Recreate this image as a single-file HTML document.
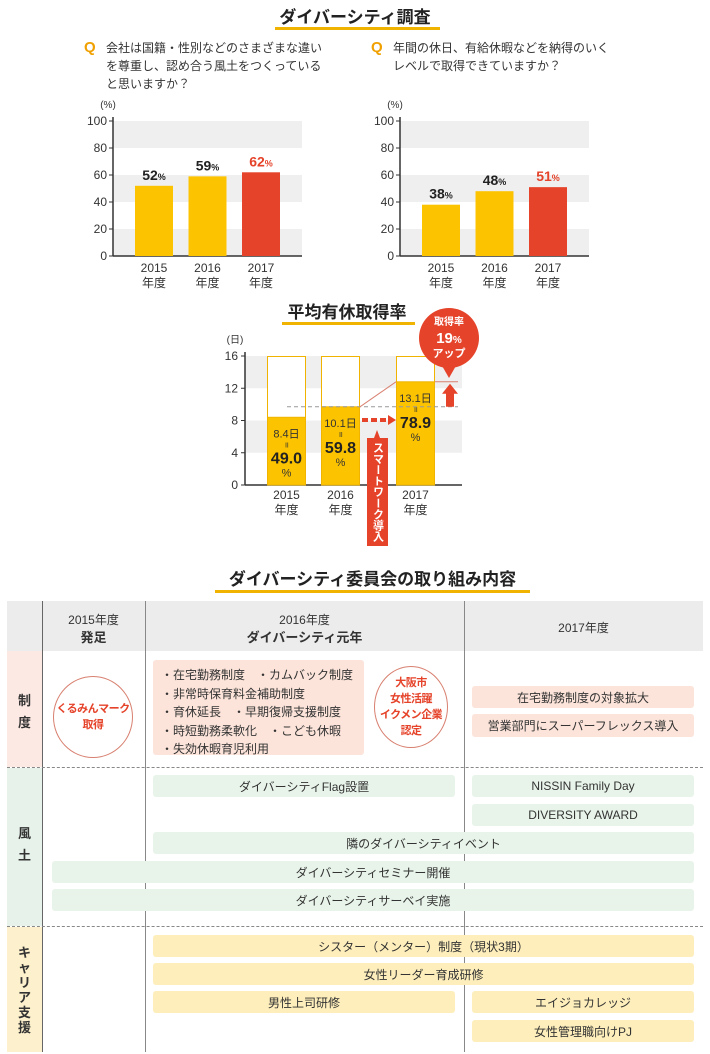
<!DOCTYPE html>
<html><head><meta charset="utf-8">
<style>
body{margin:0;width:710px;height:1054px;background:#fff;font-family:"Liberation Sans","Noto Sans CJK JP",sans-serif;color:#333;position:relative;overflow:hidden}
.a{position:absolute}
.t{position:absolute;font-weight:bold;font-size:17px;color:#222;text-align:center}
.ul{position:absolute;height:3px;background:#f0b400}
.box{position:absolute;display:flex;align-items:center;justify-content:center;font-size:12px;color:#333;border-radius:3px}
.pk{background:#fce4da}.gr{background:#e8f4ea}.yl{background:#fdeebb}
svg text{font-family:"Liberation Sans","Noto Sans CJK JP",sans-serif}
</style></head><body>
<div class="t" style="left:255px;top:3px;width:200px">ダイバーシティ調査</div>
<div class="ul" style="left:275px;top:27px;width:165px"></div>

<div class="a" style="left:106px;top:39px;font-size:12px;line-height:18px;width:220px"><span style="position:absolute;left:-22px;top:0;color:#f0a000;font-weight:bold;font-size:15px">Q</span>会社は国籍・性別などのさまざまな違いを尊重し、認め合う風土をつくっていると思いますか？</div>
<div class="a" style="left:393px;top:39px;font-size:12px;line-height:18px;width:230px"><span style="position:absolute;left:-22px;top:0;color:#f0a000;font-weight:bold;font-size:15px">Q</span>年間の休日、有給休暇などを納得のいく<br>レベルで取得できていますか？</div>

<svg id="c1" class="a" style="left:0;top:0" width="710" height="550"></svg>

<div class="t" style="left:262px;top:298px;width:170px">平均有休取得率</div>
<div class="ul" style="left:282px;top:322px;width:133px"></div>

<div class="t" style="left:190px;top:565px;width:365px">ダイバーシティ委員会の取り組み内容</div>
<div class="ul" style="left:215px;top:590px;width:315px"></div>

<div>
<div class="a" style="left:7px;top:601px;width:696px;height:50px;background:#ececec"></div>
<div class="a" style="left:7px;top:651px;width:35px;height:116px;background:#fde9e3"></div>
<div class="a" style="left:7px;top:768px;width:35px;height:158px;background:#e7f3ea"></div>
<div class="a" style="left:7px;top:927px;width:35px;height:125px;background:#fdf0cc"></div>
<div class="a" style="left:42px;top:601px;width:1px;height:451px;background:#666"></div>
<div class="a" style="left:145px;top:601px;width:1px;height:451px;background:#888"></div>
<div class="a" style="left:464px;top:601px;width:1px;height:451px;background:#888"></div>
<div class="a" style="left:7px;top:767px;width:696px;border-top:1px dashed #888"></div>
<div class="a" style="left:7px;top:926px;width:696px;border-top:1px dashed #888"></div>
<div class="a" style="left:42px;top:612px;width:103px;text-align:center;font-size:12px;line-height:17px">2015年度<br><b style="font-size:13px">発足</b></div>
<div class="a" style="left:145px;top:612px;width:319px;text-align:center;font-size:12px;line-height:17px">2016年度<br><b style="font-size:13px">ダイバーシティ元年</b></div>
<div class="a" style="left:464px;top:619px;width:239px;text-align:center;font-size:12px">2017年度</div>
<div class="a" style="left:7px;top:690px;width:35px;text-align:center;font-size:13px;font-weight:bold;line-height:22px">制<br>度</div>
<div class="a" style="left:7px;top:823px;width:35px;text-align:center;font-size:13px;font-weight:bold;line-height:22px">風<br>土</div>
<div class="a" style="left:7px;top:945px;width:35px;text-align:center;font-size:13px;font-weight:bold;line-height:15px">キ<br>ャ<br>リ<br>ア<br>支<br>援</div>

<div class="a" style="left:53px;top:676px;width:78px;height:80px;border:1px solid #d88070;border-radius:50%;display:flex;align-items:center;justify-content:center;text-align:center;color:#e5432a;font-weight:bold;font-size:11px;line-height:16px;white-space:nowrap;letter-spacing:-0.5px">くるみんマーク<br>取得</div>
<div class="a pk" style="left:153px;top:660px;width:211px;height:95px;border-radius:3px;font-size:12px;line-height:18.5px;padding:6px 0 0 8px;box-sizing:border-box">・在宅勤務制度　・カムバック制度<br>・非常時保育料金補助制度<br>・育休延長　・早期復帰支援制度<br>・時短勤務柔軟化　・こども休暇<br>・失効休暇育児利用</div>
<div class="a" style="left:374px;top:666px;width:72px;height:80px;border:1px solid #d88070;border-radius:50%;display:flex;align-items:center;justify-content:center;text-align:center;color:#e5432a;font-weight:bold;font-size:11px;line-height:16px;white-space:nowrap;letter-spacing:-0.5px">大阪市<br>女性活躍<br>イクメン企業<br>認定</div>
<div class="box pk" style="left:472px;top:686px;width:222px;height:22px">在宅勤務制度の対象拡大</div>
<div class="box pk" style="left:472px;top:714px;width:222px;height:23px">営業部門にスーパーフレックス導入</div>

<div class="box gr" style="left:153px;top:775px;width:302px;height:22px">ダイバーシティFlag設置</div>
<div class="box gr" style="left:472px;top:775px;width:222px;height:22px">NISSIN Family Day</div>
<div class="box gr" style="left:472px;top:804px;width:222px;height:22px">DIVERSITY AWARD</div>
<div class="box gr" style="left:153px;top:832px;width:541px;height:22px">隣のダイバーシティイベント</div>
<div class="box gr" style="left:52px;top:861px;width:642px;height:22px">ダイバーシティセミナー開催</div>
<div class="box gr" style="left:52px;top:889px;width:642px;height:22px">ダイバーシティサーベイ実施</div>

<div class="box yl" style="left:153px;top:935px;width:541px;height:22px">シスター（メンター）制度（現状3期）</div>
<div class="box yl" style="left:153px;top:963px;width:541px;height:22px">女性リーダー育成研修</div>
<div class="box yl" style="left:153px;top:991px;width:302px;height:22px">男性上司研修</div>
<div class="box yl" style="left:472px;top:991px;width:222px;height:22px">エイジョカレッジ</div>
<div class="box yl" style="left:472px;top:1020px;width:222px;height:22px">女性管理職向けPJ</div>
</div>

<script>
const years = ["2015","2016","2017"];
const q1Values = [52, 59, 62];
const q2Values = [38, 48, 51];
const pctTicks = [0,20,40,60,80,100];
const leaveFill = [8.4, 9.7, 12.8];
const leaveDays = ["8.4日","10.1日","13.1日"];
const leaveRates = ["49.0","59.8","78.9"];
const dayTicks = [0,4,8,12,16];

const svg = document.getElementById('c1');
const NS = 'http://www.w3.org/2000/svg';
function mk(tag, attrs, parent, txt){
  const e = document.createElementNS(NS, tag);
  for (const k in attrs) e.setAttribute(k, attrs[k]);
  if (txt !== undefined) e.textContent = txt;
  (parent||svg).appendChild(e);
  return e;
}
const YEL='#fcc300', RED='#e5432a';

function pctChart(ox, vals, name){
  const g = mk('g', {});
  
  
  const x0 = ox, x1 = ox + 189, y0 = 256, ph = 135;
  const Y = v => y0 - v / 100 * ph;
  for (let i = 0; i < pctTicks.length - 1; i += 2) {
    mk('rect', {x:x0, y:Y(pctTicks[i+1]), width:x1-x0, height:Y(pctTicks[i])-Y(pctTicks[i+1]), fill:'#efefef'}, g);
  }
  mk('line', {x1:x0, y1:Y(100)-4, x2:x0, y2:y0, stroke:'#333', 'stroke-width':1.5}, g);
  mk('line', {x1:x0, y1:y0, x2:x1, y2:y0, stroke:'#333', 'stroke-width':1.5}, g);
  pctTicks.forEach(t => {
    mk('line', {x1:x0-4, y1:Y(t), x2:x0, y2:Y(t), stroke:'#333'}, g);
    mk('text', {x:x0-6, y:Y(t)+4, 'text-anchor':'end', 'font-size':12, fill:'#333'}, g, t);
  });
  mk('text', {x:x0-5, y:108, 'text-anchor':'middle', 'font-size':10, fill:'#333'}, g, '(%)');
  vals.forEach((v, i) => {
    const bx = x0 + 22 + i * 53.5, c = i === 2 ? RED : YEL;
    const r = mk('rect', {x:bx, y:Y(v), width:38, height:y0-Y(v), fill:c}, g);
    
    
    const t = mk('text', {x:bx+19, y:Y(v)-6, 'text-anchor':'middle', 'font-size':14, 'font-weight':'bold', fill:i===2?RED:'#222'}, g);
    t.textContent = v;
    mk('tspan', {'font-size':9}, t, '%');
    mk('text', {x:bx+19, y:272, 'text-anchor':'middle', 'font-size':12, fill:'#333'}, g, years[i]);
    mk('text', {x:bx+19, y:287, 'text-anchor':'middle', 'font-size':12, fill:'#333'}, g, '年度');
  });
}
pctChart(113, q1Values, 'chart-respect');
pctChart(400, q2Values, 'chart-holidays');

(function(){
  const g = mk('g', {});
  
  
  const x0 = 245, x1 = 462, y0 = 485, ph = 129;
  const Y = v => y0 - v / 16 * ph;
  mk('rect', {x:x0, y:Y(16), width:x1-x0, height:Y(12)-Y(16), fill:'#efefef'}, g);
  mk('rect', {x:x0, y:Y(8), width:x1-x0, height:Y(4)-Y(8), fill:'#efefef'}, g);
  mk('line', {x1:x0, y1:Y(16)-4, x2:x0, y2:y0, stroke:'#333', 'stroke-width':1.5}, g);
  mk('line', {x1:x0, y1:y0, x2:x1, y2:y0, stroke:'#333', 'stroke-width':1.5}, g);
  dayTicks.forEach(t => {
    mk('line', {x1:x0-4, y1:Y(t), x2:x0, y2:Y(t), stroke:'#333'}, g);
    mk('text', {x:x0-7, y:Y(t)+4, 'text-anchor':'end', 'font-size':12, fill:'#333'}, g, t);
  });
  mk('text', {x:x0-10, y:343, 'text-anchor':'middle', 'font-size':10, fill:'#333'}, g, '(日)');
  const bxs = [267, 321, 396];
  leaveFill.forEach((v, i) => {
    const bx = bxs[i];
    mk('rect', {x:bx+0.5, y:Y(16)+0.5, width:38, height:y0-Y(16)-0.5, fill:'#fff', stroke:'#f0b400'}, g);
    const r = mk('rect', {x:bx+0.5, y:Y(v), width:38, height:y0-Y(v), fill:YEL, stroke:'#f0b400'}, g);
    
    
    const cx = bx + 19.5;
    mk('text', {x:cx, y:Y(v)+20, 'text-anchor':'middle', 'font-size':11, fill:'#333'}, g, leaveDays[i]);
    mk('text', {x:cx, y:Y(v)+30, 'text-anchor':'middle', 'font-size':8, fill:'#333'}, g, '॥');
    mk('text', {x:cx, y:Y(v)+46, 'text-anchor':'middle', 'font-size':16, 'font-weight':'bold', fill:'#222'}, g, leaveRates[i]);
    mk('text', {x:cx, y:Y(v)+59, 'text-anchor':'middle', 'font-size':11, fill:'#333'}, g, '%');
    mk('text', {x:cx, y:499, 'text-anchor':'middle', 'font-size':12, fill:'#333'}, g, years[i]);
    mk('text', {x:cx, y:514, 'text-anchor':'middle', 'font-size':12, fill:'#333'}, g, '年度');
  });
  const yA = Y(leaveFill[1]), yB = Y(leaveFill[2]);
  mk('line', {x1:287, y1:yA, x2:458, y2:yA, stroke:'#999', 'stroke-dasharray':'4,3'}, g);
  mk('line', {x1:bxs[1]+39, y1:yA, x2:bxs[2], y2:yB, stroke:'#d88070'}, g);
  mk('line', {x1:bxs[2]+39, y1:yB, x2:458, y2:yB, stroke:'#d88070'}, g);
  mk('polygon', {points:`446,${yA} 454,${yA} 454,${yB+12} 458,${yB+12} 450,${yB+2} 442,${yB+12} 446,${yB+12}`, fill:RED}, g);
  mk('line', {x1:362, y1:420, x2:388, y2:420, stroke:RED, 'stroke-width':4, 'stroke-dasharray':'6,3'}, g);
  mk('polygon', {points:'388,415 396,420 388,425', fill:RED}, g);
  const vb = mk('g', {}, g);
  
  
  mk('polygon', {points:'367,438 374,438 377,430 380,438 388,438 388,546 367,546', fill:RED}, vb);
  mk('text', {x:377.5, y:442, 'font-size':11, 'font-weight':'bold', fill:'#fff', textLength:100, lengthAdjust:'spacingAndGlyphs', style:'writing-mode:vertical-rl'}, vb, 'スマートワーク導入');
  const bb = mk('g', {}, g);
  
  
  mk('circle', {cx:449, cy:338, r:30, fill:RED}, bb);
  mk('polygon', {points:'441,364 457,364 449,378', fill:RED}, bb);
  mk('text', {x:449, y:325, 'text-anchor':'middle', 'font-size':10, 'font-weight':'bold', fill:'#fff'}, bb, '取得率');
  const t = mk('text', {x:449, y:343, 'text-anchor':'middle', 'font-size':15, 'font-weight':'bold', fill:'#fff'}, bb, '19');
  mk('tspan', {'font-size':10}, t, '%');
  mk('text', {x:449, y:357, 'text-anchor':'middle', 'font-size':11, 'font-weight':'bold', fill:'#fff'}, bb, 'アップ');
})();
</script>
</body></html>
